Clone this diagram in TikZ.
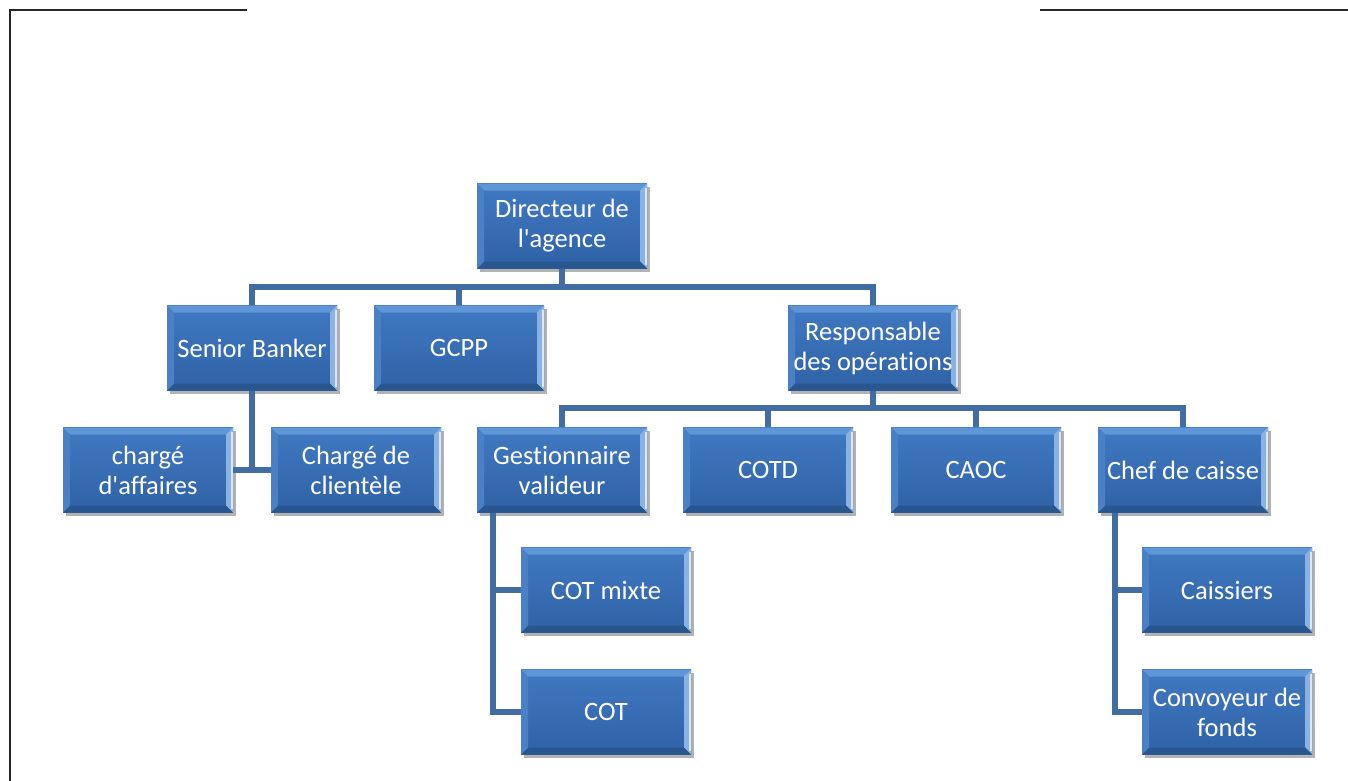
\documentclass[tikz,border=0pt]{standalone}
\usepackage{fontspec}
\setmainfont{Carlito}[Ligatures={NoCommon}]
\usetikzlibrary{shadows}
\definecolor{faceTop}{HTML}{4079C2}
\definecolor{faceBot}{HTML}{2F62A6}
\definecolor{bevTop}{HTML}{5F96D8}
\definecolor{bevLeft}{HTML}{4A80C6}
\definecolor{bevRight}{HTML}{8AB3E4}
\definecolor{bevBot}{HTML}{2A568F}
\definecolor{connCol}{HTML}{416DA3}
\tikzset{
  orgbox/.style={
    minimum width=170pt, minimum height=85pt, inner sep=0pt, align=center,
    text=white, font=\fontsize{26.5}{30}\selectfont,
    top color=faceTop, bottom color=faceBot,
    drop shadow={shadow xshift=3pt, shadow yshift=-3pt, opacity=0.3, fill=black},
    path picture={
      \coordinate (pnw) at (path picture bounding box.north west);
      \coordinate (pne) at (path picture bounding box.north east);
      \coordinate (psw) at (path picture bounding box.south west);
      \coordinate (pse) at (path picture bounding box.south east);
      \fill[bevTop] (pnw) -- (pne) -- ([xshift=-7pt,yshift=-7pt]pne) -- ([xshift=7pt,yshift=-7pt]pnw) -- cycle;
      \fill[bevRight] (pne) -- (pse) -- ([xshift=-7pt,yshift=7pt]pse) -- ([xshift=-7pt,yshift=-7pt]pne) -- cycle;
      \fill[bevBot] (pse) -- (psw) -- ([xshift=7pt,yshift=7pt]psw) -- ([xshift=-7pt,yshift=7pt]pse) -- cycle;
      \fill[bevLeft] (psw) -- (pnw) -- ([xshift=7pt,yshift=-7pt]pnw) -- ([xshift=7pt,yshift=7pt]psw) -- cycle;
      \draw[white!70!bevRight, line width=1.5pt] ([xshift=-1pt,yshift=-4pt]pne) -- ([xshift=-1pt,yshift=4pt]pse);
    }
  },
  conn/.style={draw=connCol, line width=5.5pt},
  frame/.style={draw=black!85, line width=2.2pt}
}
\begin{document}
\begin{tikzpicture}[x=1pt, y=-1pt]
\useasboundingbox (0,0) rectangle (1348,780);
\fill[white] (0,0) rectangle (1348,780);
% page frame
\draw[frame] (247,10) -- (10,10) -- (10,781);
\draw[frame] (1040,10) -- (1349,10);

\coordinate (bus1) at (562,287);
\coordinate (bus2) at (873,408);

\node[orgbox] (dir)  at (562,226) {Directeur de\\l\textquotesingle agence};
\node[orgbox] (sb)   at (252,348) {Senior Banker};
\node[orgbox] (gcpp) at (459,348) {GCPP};
\node[orgbox] (resp) at (873,348) {Responsable\\des opérations};
\node[orgbox] (cda)  at (148,470) {chargé\\d\textquotesingle affaires};
\node[orgbox] (ccl)  at (356,470) {Chargé de\\clientèle};
\node[orgbox] (gest) at (562,470) {Gestionnaire\\valideur};
\node[orgbox] (cotd) at (768,470) {COTD};
\node[orgbox] (caoc) at (976,470) {CAOC};
\node[orgbox] (chef) at (1183,470) {Chef de caisse};
\node[orgbox] (cotm) at (606,590) {COT mixte};
\node[orgbox] (cot)  at (606,712) {COT};
\node[orgbox] (cais) at (1227,590) {Caissiers};
\node[orgbox] (conv) at (1227,712) {Convoyeur de\\fonds};

% level 1
\draw[conn] (dir.south) -- (dir.south |- bus1);
\draw[conn] (sb.north) |- (resp.north |- bus1) -- (resp.north);
\draw[conn] (gcpp.north) -- (gcpp.north |- bus1);
% senior banker children
\draw[conn] (sb.south) -- (sb.south |- cda.east);
\draw[conn] (cda.east) -- (ccl.west);
% responsable children
\draw[conn] (resp.south) -- (resp.south |- bus2);
\draw[conn] (gest.north) |- (chef.north |- bus2) -- (chef.north);
\draw[conn] (cotd.north) -- (cotd.north |- bus2);
\draw[conn] (caoc.north) -- (caoc.north |- bus2);
% gestionnaire children
\coordinate (gx) at ([xshift=16pt]gest.south west);
\draw[conn] (gx) |- (cot.west);
\draw[conn] (gx |- cotm.west) -- (cotm.west);
% chef children
\coordinate (cx) at ([xshift=17pt]chef.south west);
\draw[conn] (cx) |- (conv.west);
\draw[conn] (cx |- cais.west) -- (cais.west);
\end{tikzpicture}
\end{document}
